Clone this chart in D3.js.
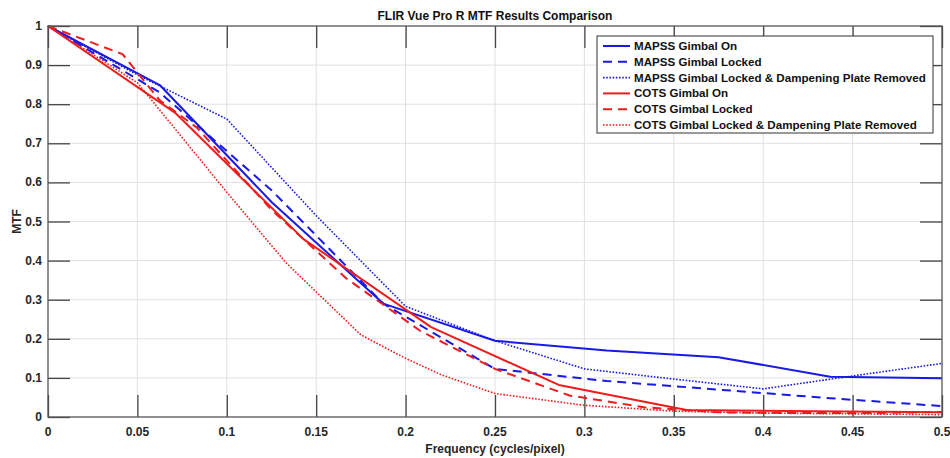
<!DOCTYPE html>
<html>
<head>
<meta charset="utf-8">
<script src="https://cdn.jsdelivr.net/npm/d3@7"></script>
<style>
  body { margin: 0; background: #fff; }
  text { font-family: "Liberation Sans", Arial, sans-serif; font-weight: bold; }
</style>
</head>
<body>
<div id="chart"></div>
<script>
// tick labels
var xTicks = [0, 0.05, 0.1, 0.15, 0.2, 0.25, 0.3, 0.35, 0.4, 0.45, 0.5];
var yTicks = [0, 0.1, 0.2, 0.3, 0.4, 0.5, 0.6, 0.7, 0.8, 0.9, 1];

// series names
var seriesNames = [
    "MAPSS Gimbal On",
    "MAPSS Gimbal Locked",
    "MAPSS Gimbal Locked & Dampening Plate Removed",
    "COTS Gimbal On",
    "COTS Gimbal Locked",
    "COTS Gimbal Locked & Dampening Plate Removed"
];

// values (frequency, MTF)
var mapssOnF = [0, 0.0625, 0.125, 0.1875, 0.25, 0.3125, 0.375, 0.4375, 0.5];
var mapssOnV = [1, 0.849, 0.55, 0.29, 0.195, 0.17, 0.153, 0.103, 0.099];

var mapssLockF = [0, 0.0625, 0.125, 0.1875, 0.25, 0.3125, 0.375, 0.4375, 0.5];
var mapssLockV = [1, 0.83, 0.58, 0.29, 0.123, 0.092, 0.07, 0.048, 0.028];

var mapssDampF = [0, 0.05, 0.1, 0.15, 0.2, 0.25, 0.3, 0.35, 0.4, 0.45, 0.5];
var mapssDampV = [1, 0.875, 0.762, 0.515, 0.283, 0.195, 0.123, 0.097, 0.072, 0.105, 0.137];

var cotsOnF = [0, 0.0714, 0.1429, 0.2143, 0.2857, 0.3571, 0.4286, 0.5];
var cotsOnV = [1, 0.777, 0.455, 0.23, 0.082, 0.018, 0.015, 0.012];

var cotsLockF = [0, 0.0417, 0.0625, 0.0833, 0.125, 0.1667, 0.2083, 0.25, 0.2917, 0.3333, 0.375, 0.4167, 0.4583, 0.5];
var cotsLockV = [1, 0.928, 0.81, 0.74, 0.53, 0.355, 0.22, 0.123, 0.055, 0.025, 0.012, 0.01, 0.01, 0.013];

var cotsDampF = [0, 0.05, 0.1, 0.133, 0.175, 0.2, 0.22, 0.25, 0.3, 0.35, 0.4, 0.45, 0.5];
var cotsDampV = [1, 0.855, 0.575, 0.395, 0.21, 0.15, 0.108, 0.06, 0.03, 0.015, 0.01, 0.008, 0.006];

var seriesF = [mapssOnF, mapssLockF, mapssDampF, cotsOnF, cotsLockF, cotsDampF];
var seriesV = [mapssOnV, mapssLockV, mapssDampV, cotsOnV, cotsLockV, cotsDampV];
var seriesColor = ["#1a1ae6", "#1a1ae6", "#1a1ae6", "#ee1c1c", "#ee1c1c", "#ee1c1c"];
var seriesDash = [null, "9,6", "1.6,1.6", null, "9,6", "1.6,1.6"];
var seriesWidth = [2, 2, 1.6, 2, 2, 1.6];

var width = 950, height = 458,
    margin = { top: 26, right: 8, bottom: 41, left: 48 };

var svg = d3.select("#chart").append("svg")
    .attr("width", width)
    .attr("height", height);

var x = d3.scaleLinear().domain([0, 0.5]).range([margin.left, width - margin.right]);
var y = d3.scaleLinear().domain([0, 1]).range([height - margin.bottom, margin.top]);

// grid
svg.append("g").selectAll("line").data(xTicks.slice(1, -1)).enter().append("line")
    .attr("x1", function(d) { return x(d); }).attr("x2", function(d) { return x(d); })
    .attr("y1", y(0)).attr("y2", y(1))
    .attr("stroke", "#e0e0e0").attr("stroke-width", 1);
svg.append("g").selectAll("line").data(yTicks.slice(1, -1)).enter().append("line")
    .attr("x1", x(0)).attr("x2", x(0.5))
    .attr("y1", function(d) { return y(d); }).attr("y2", function(d) { return y(d); })
    .attr("stroke", "#e0e0e0").attr("stroke-width", 1);

// long inner ticks on all four sides
var tickLen = 22;
var tickColor = "#444";
svg.append("g").attr("transform", "translate(0," + y(0) + ")")
    .call(d3.axisTop(x).tickValues(xTicks).tickSize(tickLen).tickFormat(""))
    .call(function(g) { g.select(".domain").remove(); })
    .selectAll("line").attr("stroke", tickColor).attr("stroke-width", 1.3);
svg.append("g").attr("transform", "translate(0," + y(1) + ")")
    .call(d3.axisBottom(x).tickValues(xTicks).tickSize(tickLen).tickFormat(""))
    .call(function(g) { g.select(".domain").remove(); })
    .selectAll("line").attr("stroke", tickColor).attr("stroke-width", 1.3);
svg.append("g").attr("transform", "translate(" + x(0) + ",0)")
    .call(d3.axisRight(y).tickValues(yTicks).tickSize(tickLen).tickFormat(""))
    .call(function(g) { g.select(".domain").remove(); })
    .selectAll("line").attr("stroke", tickColor).attr("stroke-width", 1.3);
svg.append("g").attr("transform", "translate(" + x(0.5) + ",0)")
    .call(d3.axisLeft(y).tickValues(yTicks).tickSize(tickLen).tickFormat(""))
    .call(function(g) { g.select(".domain").remove(); })
    .selectAll("line").attr("stroke", tickColor).attr("stroke-width", 1.3);

// tick labels
svg.append("g").selectAll("text").data(xTicks).enter().append("text")
    .attr("x", function(d) { return x(d); })
    .attr("y", y(0) + 19)
    .attr("text-anchor", "middle")
    .attr("fill", "#262626")
    .style("font-size", "12px")
    .text(function(d) { return d3.format("")(d); });
svg.append("g").selectAll("text").data(yTicks).enter().append("text")
    .attr("x", x(0) - 6)
    .attr("y", function(d) { return y(d) + 4; })
    .attr("text-anchor", "end")
    .attr("fill", "#262626")
    .style("font-size", "12px")
    .text(function(d) { return d3.format("")(d); });

// lines
var line = d3.line()
    .x(function(d) { return x(d[0]); })
    .y(function(d) { return y(d[1]); });

var plot = svg.append("g");
seriesNames.forEach(function(name, i) {
    var pts = d3.zip(seriesF[i], seriesV[i]);
    plot.append("path")
        .datum(pts)
        .attr("d", line)
        .attr("fill", "none")
        .attr("stroke", seriesColor[i])
        .attr("stroke-width", seriesWidth[i])
        .attr("stroke-dasharray", seriesDash[i])
        .attr("stroke-linejoin", "round");
});

// axes box
svg.append("rect")
    .attr("x", x(0)).attr("y", y(1))
    .attr("width", x(0.5) - x(0)).attr("height", y(0) - y(1))
    .attr("fill", "none").attr("stroke", "#555").attr("stroke-width", 1.3);

// title and axis labels
svg.append("text")
    .attr("x", (x(0) + x(0.5)) / 2).attr("y", 20)
    .attr("text-anchor", "middle").attr("fill", "#111")
    .style("font-size", "12px")
    .text("FLIR Vue Pro R MTF Results Comparison");
svg.append("text")
    .attr("x", (x(0) + x(0.5)) / 2).attr("y", 453)
    .attr("text-anchor", "middle").attr("fill", "#262626")
    .style("font-size", "12px")
    .text("Frequency (cycles/pixel)");
svg.append("text")
    .attr("transform", "translate(21," + ((y(0) + y(1)) / 2) + ") rotate(-90)")
    .attr("text-anchor", "middle").attr("fill", "#262626")
    .style("font-size", "12px")
    .text("MTF");

// legend
var legend = svg.append("g").attr("transform", "translate(597,36)");
legend.append("rect")
    .attr("width", 336).attr("height", 97)
    .attr("fill", "#fff").attr("stroke", "#333").attr("stroke-width", 1);
var rows = legend.selectAll("g.row").data(seriesNames).enter().append("g")
    .attr("class", "row")
    .attr("transform", function(d, i) { return "translate(0," + (10 + i * 15.8) + ")"; });
rows.append("line")
    .attr("x1", 6).attr("x2", 33)
    .attr("stroke", function(d, i) { return seriesColor[i]; })
    .attr("stroke-width", function(d, i) { return seriesWidth[i]; })
    .attr("stroke-dasharray", function(d, i) { return seriesDash[i]; });
rows.append("text")
    .attr("x", 37).attr("y", 4)
    .attr("fill", "#111")
    .style("font-size", "11.6px")
    .text(function(d) { return d; });
</script>
</body>
</html>
